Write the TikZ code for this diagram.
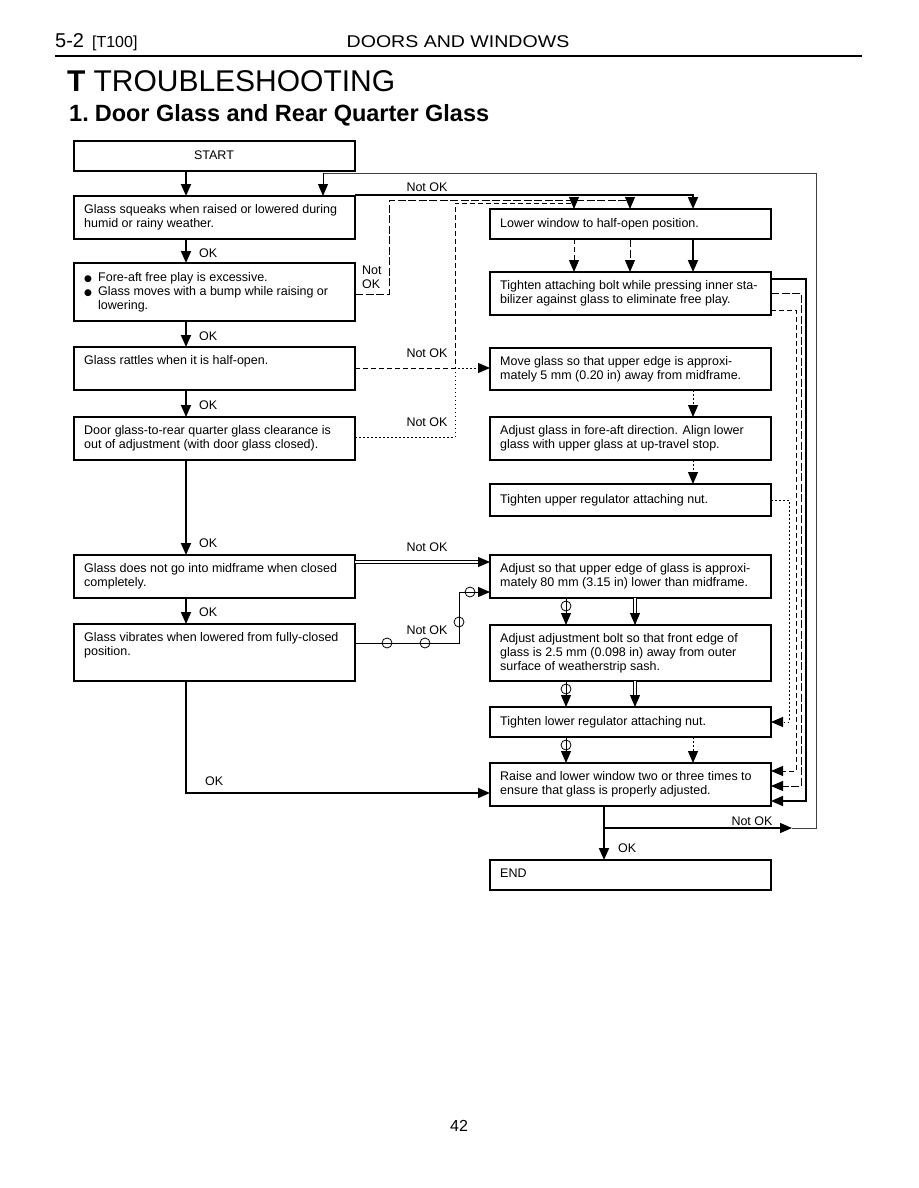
\documentclass[tikz,border=0pt]{standalone}
\usepackage{fontspec}
\usepackage{graphicx}
\setmainfont{Liberation Sans}
\newfontfamily\dejavu{DejaVu Sans}
\usetikzlibrary{arrows.meta,calc}
\newcommand\btx[1]{\parbox[t]{270pt}{\raggedright #1}}
\newcommand\bul{\makebox[14pt][l]{{\dejavu\fontsize{9}{9}\selectfont ●}}}
\begin{document}
\begin{tikzpicture}[x=1pt,y=-1pt,
  box/.style={draw, line width=1.1pt, anchor=north west, minimum width=281pt, inner sep=0pt, outer sep=0pt},
  txt/.style={anchor=base west, inner sep=0pt, font=\fontsize{12.5}{14.2}\selectfont},
  lbl/.style={inner sep=0pt, font=\fontsize{12.5}{14.2}\selectfont},
  tip/.style={-{Triangle[length=12pt,width=10pt]}},
  main/.style={line width=1.8pt},
  midl/.style={line width=1.3pt},
  thinl/.style={line width=0.9pt},
  dashA/.style={line width=0.9pt, dash pattern=on 8pt off 2.5pt},
  dashB/.style={line width=0.9pt, dash pattern=on 5pt off 3pt},
  dotB/.style={line width=1pt, dash pattern=on 1.5pt off 2.5pt},
  dbl/.style={double, double distance=2pt, line width=0.7pt},
  loopl/.style={line width=0.9pt, black!75},
  ring/.style={line width=0.8pt}
]
\fill[white] (0,0) rectangle (918,1188);
\useasboundingbox (0,0) rectangle (918,1188);

% header
\node[anchor=base west, inner sep=0pt] (hl) at (55,48) {\fontsize{20}{20}\selectfont 5-2\hspace{8pt}\fontsize{16}{16}\selectfont [T100]};
\node[anchor=base, inner sep=0pt] (hc) at (458,48) {\scalebox{1.15}[1]{\fontsize{17}{17}\selectfont DOORS AND WINDOWS}};
\draw[line width=2pt] (55,56) -- (862,56);
\node[anchor=base west, inner sep=0pt] (ttl) at (67,92) {\fontsize{30}{30}\selectfont\textbf{T}\hspace{8pt}TROUBLESHOOTING};
\node[anchor=base west, inner sep=0pt] (sub) at (69,122) {\fontsize{23.5}{24}\selectfont\bfseries 1.\hspace{6pt}Door Glass and Rear Quarter Glass};
\node[anchor=base, inner sep=0pt] (pg) at (459,1131) {\fontsize{16}{16}\selectfont 42};

% left column boxes
\node[box, minimum height=30pt] (start) at (74,141) {};
\node[lbl] (startt) at (214,155) {START};
\node[box, minimum height=43pt] (b1) at (74,196) {};
\node[txt] (b1t) at (84,213.5) {\btx{Glass squeaks when raised or lowered during\\humid or rainy weather.}};
\node[box, minimum height=58pt] (b2) at (74,263) {};
\node[txt] (b2t) at (84,281) {\btx{\bul Fore-aft free play is excessive.\\\bul Glass moves with a bump while raising or\\\hspace*{14pt}lowering.}};
\node[box, minimum height=43pt] (b3) at (74,347) {};
\node[txt] (b3t) at (84,364.5) {\btx{Glass rattles when it is half-open.}};
\node[box, minimum height=43pt] (b4) at (74,417) {};
\node[txt] (b4t) at (84,434.5) {\btx{Door glass-to-rear quarter glass clearance is\\out of adjustment (with door glass closed).}};
\node[box, minimum height=43pt] (b5) at (74,555) {};
\node[txt] (b5t) at (84,572.5) {\btx{Glass does not go into midframe when closed\\completely.}};
\node[box, minimum height=57pt] (b6) at (74,624) {};
\node[txt] (b6t) at (84,641.5) {\btx{Glass vibrates when lowered from fully-closed\\position.}};

% right column boxes
\node[box, minimum height=30pt] (r1) at (490,209) {};
\node[txt] (r1t) at (500,227.5) {\btx{Lower window to half-open position.}};
\node[box, minimum height=43pt] (r2) at (490,272) {};
\node[txt] (r2t) at (500,289.5) {\btx{Tighten attaching bolt while pressing inner sta-\\bilizer against glass to eliminate free play.}};
\node[box, minimum height=42pt] (r3) at (490,348) {};
\node[txt] (r3t) at (500,365.5) {\btx{Move glass so that upper edge is approxi-\\mately 5 mm (0.20 in) away from midframe.}};
\node[box, minimum height=43pt] (r4) at (490,417) {};
\node[txt] (r4t) at (500,434.5) {\btx{Adjust glass in fore-aft direction. Align lower\\glass with upper glass at up-travel stop.}};
\node[box, minimum height=32pt] (r5) at (490,484) {};
\node[txt] (r5t) at (500,503) {\btx{Tighten upper regulator attaching nut.}};
\node[box, minimum height=43pt] (r6) at (490,555) {};
\node[txt] (r6t) at (500,572.5) {\btx{Adjust so that upper edge of glass is approxi-\\mately 80 mm (3.15 in) lower than midframe.}};
\node[box, minimum height=56pt] (r7) at (490,625) {};
\node[txt] (r7t) at (500,642.5) {\btx{Adjust adjustment bolt so that front edge of\\glass is 2.5 mm (0.098 in) away from outer\\surface of weatherstrip sash.}};
\node[box, minimum height=30pt] (r8) at (490,707) {};
\node[txt] (r8t) at (500,725) {\btx{Tighten lower regulator attaching nut.}};
\node[box, minimum height=43pt] (r9) at (490,763) {};
\node[txt] (r9t) at (500,780.5) {\btx{Raise and lower window two or three times to\\ensure that glass is properly adjusted.}};
\node[box, minimum height=30pt] (end) at (490,860) {};
\node[txt] (endt) at (500,877.5) {\btx{END}};

% coordinates
\coordinate (L) at (186,0);
\coordinate (cA) at (693,195);
\coordinate (cB1) at (389,294);
\coordinate (cB2) at (389,200);
\coordinate (cB3) at (630,200);
\coordinate (cC1) at (455,368);
\coordinate (cC2) at (455,203);
\coordinate (cC3) at (574,203);
\coordinate (cD1) at (455,437);
\coordinate (cS1) at (806,279);
\coordinate (cS2) at (806,801);
\coordinate (cT1) at (801,293);
\coordinate (cT2) at (801,786);
\coordinate (cU1) at (796,310);
\coordinate (cU2) at (796,771);
\coordinate (cV1) at (789,500);
\coordinate (cV2) at (789,722);
\coordinate (cE) at (478,562);
\coordinate (cDx) at (635,0);
\coordinate (cF1) at (459,643);
\coordinate (cF2) at (459,592);
\coordinate (cFx) at (566,0);
\coordinate (cG) at (186,793);
\coordinate (cH) at (604,828);
\coordinate (cH2) at (792,828);
\coordinate (cI1) at (816,828);
\coordinate (cI2) at (816,173);
\coordinate (cI3) at (323,173);

% left column OK arrows
\draw[main,tip] (start.south -| L) -- (b1.north -| L);
\draw[main,tip] (b1.south -| L) -- (b2.north -| L);
\draw[main,tip] (b2.south -| L) -- (b3.north -| L);
\draw[main,tip] (b3.south -| L) -- (b4.north -| L);
\draw[main,tip] (b4.south -| L) -- (b5.north -| L);
\draw[main,tip] (b5.south -| L) -- (b6.north -| L);
\draw[main,tip] (b6.south -| L) -- (cG) -- (r9.west |- cG);

% Not OK paths
\draw[main,tip] (b1.north east |- cA) -- (cA) -- (r1.north -| cA);
\draw[dashA,tip] (b2.east |- cB1) -- (cB1) -- (cB2) -- (cB3) -- (r1.north -| cB3);
\draw[dashB,tip] (b3.east |- cC1) -- (cC1) -- (cC2) -- (cC3) -- (r1.north -| cC3);
\draw[dotB,tip] (b4.east |- cD1) -- (cD1) -- (cC1) -- (r3.west |- cC1);

\draw[dashB,tip] (r1.south -| cC3) -- (r2.north -| cC3);
\draw[dashA,tip] (r1.south -| cB3) -- (r2.north -| cB3);
\draw[main,tip] (r1.south -| cA) -- (r2.north -| cA);

\draw[main,tip] (r2.east |- cS1) -- (cS1) -- (cS2) -- (r9.east |- cS2);
\draw[dashA,tip] (r2.east |- cT1) -- (cT1) -- (cT2) -- (r9.east |- cT2);
\draw[dashB,tip] (r2.east |- cU1) -- (cU1) -- (cU2) -- (r9.east |- cU2);

\draw[dotB,tip] (r3.south -| cA) -- (r4.north -| cA);
\draw[dotB,tip] (r4.south -| cA) -- (r5.north -| cA);
\draw[dotB,tip] (r5.east |- cV1) -- (cV1) -- (cV2) -- (r8.east |- cV2);
\draw[dotB,tip] (r8.south -| cA) -- (r9.north -| cA);

% double path
\draw[dbl] (b5.east |- cE) -- (cE);
\draw[thinl,tip] (cE) -- (r6.west |- cE);
\draw[dbl] (r6.south -| cDx) -- ($(r7.north -| cDx)+(0,-12)$);
\draw[thinl,tip] ($(r7.north -| cDx)+(0,-12)$) -- (r7.north -| cDx);
\draw[dbl] (r7.south -| cDx) -- ($(r8.north -| cDx)+(0,-12)$);
\draw[thinl,tip] ($(r8.north -| cDx)+(0,-12)$) -- (r8.north -| cDx);

% circle path
\draw[thinl,tip] (b6.east |- cF1) -- (cF1) -- (cF2) -- (r6.west |- cF2);
\draw[ring] (387,643) circle[radius=5pt];
\draw[ring] (425,643) circle[radius=5pt];
\draw[ring] (459,622) circle[radius=5pt];
\draw[ring] (470,592) circle[radius=5pt];
\draw[thinl,tip] (r6.south -| cFx) -- (r7.north -| cFx);
\draw[ring] (566,606) circle[radius=5pt];
\draw[thinl,tip] (r7.south -| cFx) -- (r8.north -| cFx);
\draw[ring] (566,689) circle[radius=5pt];
\draw[thinl,tip] (r8.south -| cFx) -- (r9.north -| cFx);
\draw[ring] (566,745) circle[radius=5pt];

% end and loop
\draw[main,tip] (r9.south -| cH) -- (end.north -| cH);
\draw[midl,tip] (cH) -- (cH2);
\draw[loopl] (cH2) -- (cI1) -- (cI2) -- (cI3);
\draw[line width=0.9pt,tip] (cI3) -- (b1.north -| cI3);

% labels
\node[lbl] (l1) at (427,187) {Not OK};
\node[lbl, anchor=west] (l2) at (199,253) {OK};
\node[lbl, align=left, anchor=west] (l3) at (362,277) {Not\\OK};
\node[lbl, anchor=west] (l4) at (199,336) {OK};
\node[lbl] (l5) at (427,353) {Not OK};
\node[lbl, anchor=west] (l6) at (199,405) {OK};
\node[lbl] (l7) at (427,422) {Not OK};
\node[lbl, anchor=west] (l8) at (199,543) {OK};
\node[lbl] (l9) at (427,547) {Not OK};
\node[lbl, anchor=west] (l10) at (199,612) {OK};
\node[lbl] (l11) at (427,630) {Not OK};
\node[lbl, anchor=west] (l12) at (205,781) {OK};
\node[lbl] (l13) at (752,821) {Not OK};
\node[lbl, anchor=west] (l14) at (618,848) {OK};
\end{tikzpicture}
\end{document}
